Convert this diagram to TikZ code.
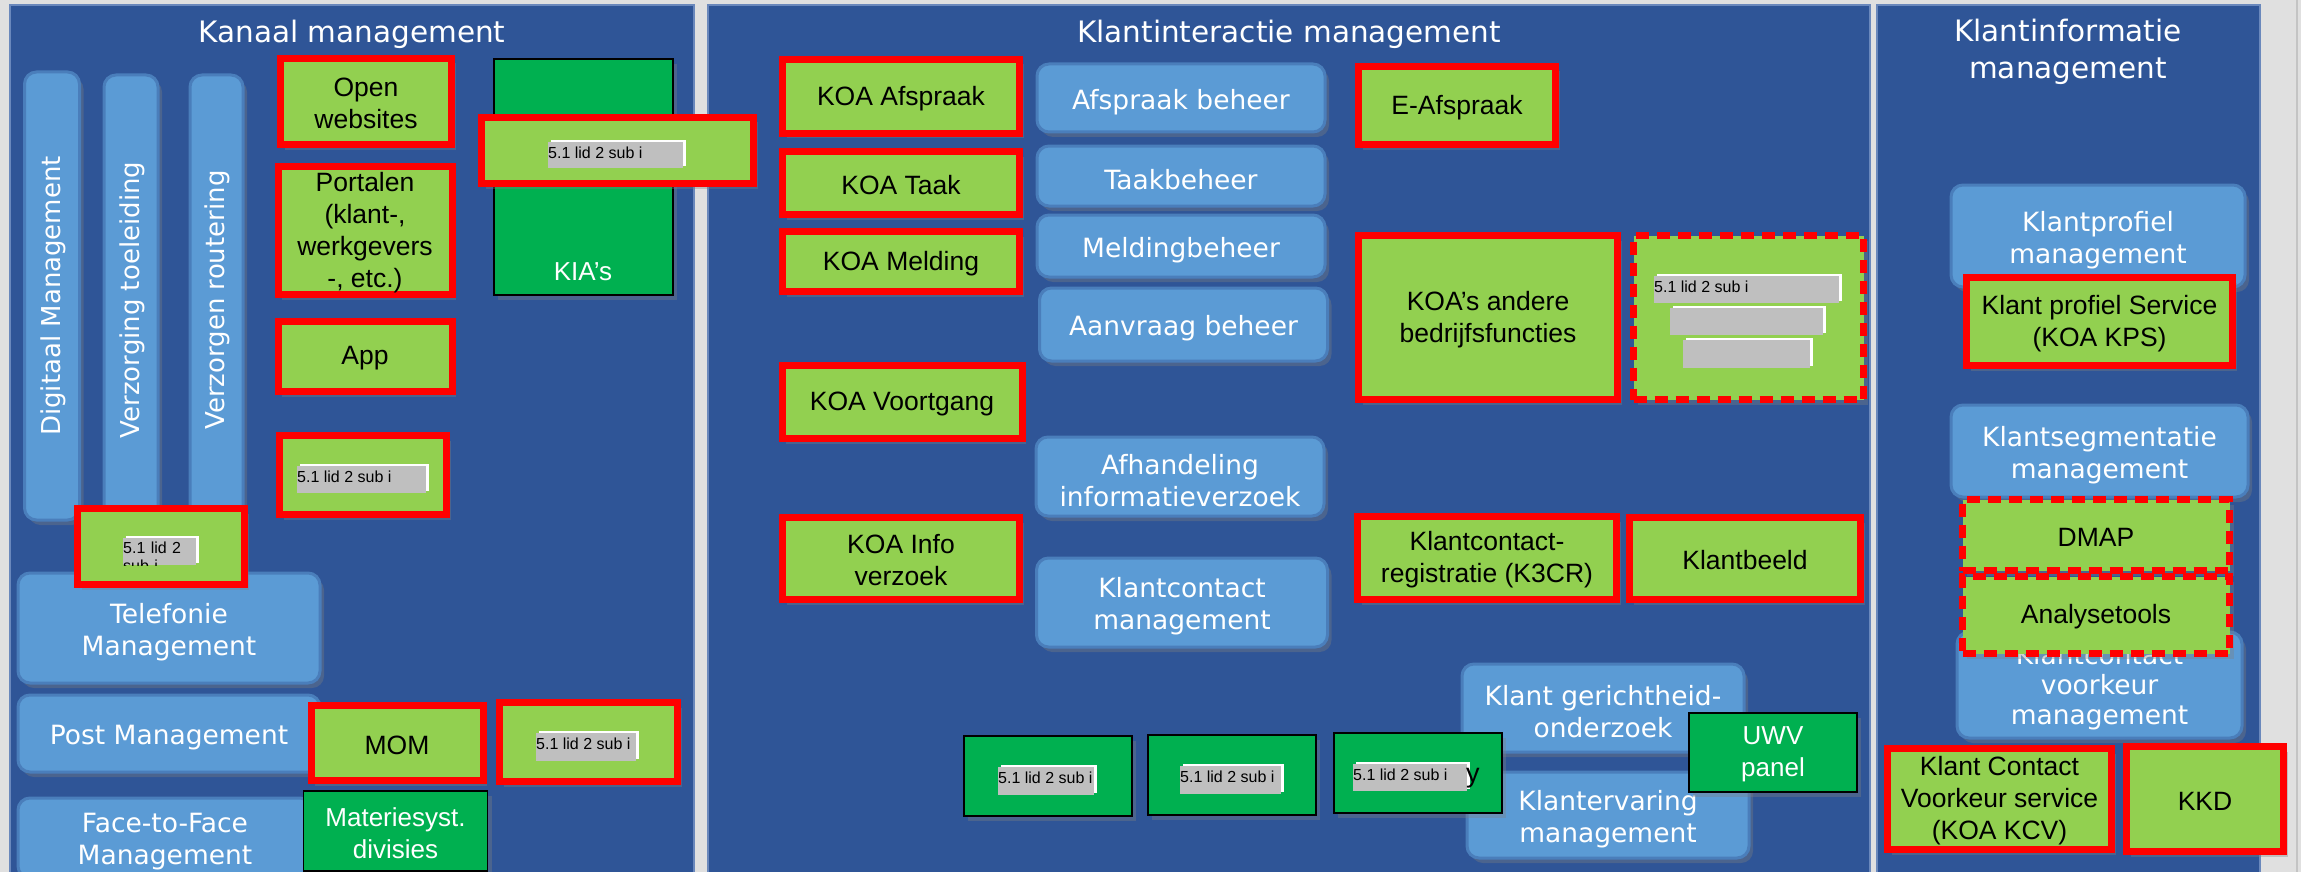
\documentclass[tikz,border=0pt]{standalone}
\usepackage{fontspec}
\setmainfont{Liberation Sans}
\newfontfamily\vfont{DejaVu Sans}
\newfontfamily\afont{Liberation Sans}
\usetikzlibrary{shadows}
\definecolor{bggray}{HTML}{E0E0E0}
\definecolor{edgegray}{HTML}{C4C4C4}
\definecolor{panelblue}{HTML}{2F5597}
\definecolor{paneledge}{HTML}{6A88BC}
\definecolor{lblue}{HTML}{5B9BD5}
\definecolor{lbedge}{HTML}{4A7EBB}
\definecolor{lgreen}{HTML}{92D050}
\definecolor{dgreen}{HTML}{00B050}
\definecolor{labgray}{HTML}{BFBFBF}
\tikzset{
  panel/.style={fill=panelblue, draw=paneledge, line width=2pt},
  ptitle/.style={text=white, font=\vfont\fontsize{29.5}{37}\selectfont, align=center, inner sep=0pt},
  shad/.style={drop shadow={shadow xshift=4pt, shadow yshift=-5pt, opacity=0.35}},
  bbox/.style={rectangle, rounded corners=12pt, fill=lblue, draw=lbedge, line width=3pt, inner sep=0pt, shad},
  btext/.style={text=white, font=\vfont\fontsize{26.5}{32}\selectfont, align=center, inner sep=0pt},
  vtext/.style={rotate=90, text=white, font=\vfont\fontsize{26}{30}\selectfont, inner sep=0pt},
  gbox/.style={rectangle, fill=lgreen, draw=red, line width=7pt, inner sep=0pt, shad},
  gdash/.style={gbox, dash pattern=on 13pt off 8pt},
  gtxt/.style={text=black, font=\afont\fontsize{26.5}{32}\selectfont, align=center, inner sep=0pt},
  dbox/.style={rectangle, fill=dgreen, draw=black, line width=1.5pt, inner sep=0pt, shad},
  dtext/.style={text=white, font=\afont\fontsize{26}{32}\selectfont, align=center, inner sep=0pt},
  gtext/.style={text=black, font=\afont\fontsize{16}{18}\selectfont, inner sep=0pt},
}
% blue rounded box: name, cx, cy, w, h, text
\newcommand\bluebox[6]{%
  \node[bbox, minimum width=#4pt, minimum height=#5pt] (#1) at (#2,#3) {};
  \node[btext] (#1-t) at (#2,#3+4) {#6};}
% green box: [style], name, cx, cy, w, h, text
\newcommand\greenbox[7][gbox]{%
  \node[#1, minimum width=#5pt, minimum height=#6pt] (#2) at (#3,#4) {};
  \node[gtxt] (#2-t) at (#3,#4+2) {#7};}
% dark green box: name, cx, cy, w, h, text
\newcommand\darkbox[6]{%
  \node[dbox, minimum width=#4pt, minimum height=#5pt] (#1) at (#2,#3) {};
  \node[dtext] (#1-t) at (#2,#3+2) {#6};}
\newcommand\graylabel[6]{%
  \fill[white] (#2+3,#3-2) rectangle (#4+3,#5-2);
  \fill[labgray] (#2,#3) rectangle (#4,#5);
  \node[gtext, anchor=base west] (#1) at (#2,#3+16) {#6};}
\newcommand\graybar[4]{%
  \fill[white] (#1+3,#2-2) rectangle (#3+3,#4-2);
  \fill[labgray] (#1,#2) rectangle (#3,#4);}
\begin{document}
\begin{tikzpicture}[x=1pt,y=-1pt]
\useasboundingbox (0,0) rectangle (2301,872);
\clip (0,0) rectangle (2301,872);
\fill[bggray] (0,0) rectangle (2301,872);
\draw[edgegray, line width=2.5pt] (2297,0) -- (2297,872);
% panels
\draw[panel] (10,5) rectangle (694,900);
\draw[panel] (708,5) rectangle (1870,900);
\draw[panel] (1877,5) rectangle (2260,900);
\node[ptitle] (tkanaal) at (352,34) {Kanaal management};
\node[ptitle] (tinter) at (1289,34) {Klantinteractie management};
\node[ptitle] (tinfo) at (2068,52) {Klantinformatie\\management};

% ---------- panel 1: blue ----------
\node[bbox, minimum width=55pt, minimum height=448pt] (bdig) at (52,296) {};
\node[vtext] (tdig) at (53,296) {Digitaal Management};
\node[bbox, minimum width=54pt, minimum height=445pt] (bverz) at (131,297.5) {};
\node[vtext] (tverz) at (132,300) {Verzorging toeleiding};
\node[bbox, minimum width=53pt, minimum height=445pt] (brout) at (216.5,297.5) {};
\node[vtext] (trout) at (217,300) {Verzorgen routering};
\bluebox{btel}{169}{628}{302}{110}{Telefonie\\Management}
\bluebox{bpost}{169}{733.5}{302}{77}{Post Management}
\bluebox{bface}{165}{838}{294}{80}{Face-to-Face\\Management}

% ---------- panel 2: blue ----------
\bluebox{bafs}{1181}{98}{288}{68}{Afspraak beheer}
\bluebox{btaak}{1181}{176}{288}{60}{Taakbeheer}
\bluebox{bmeld}{1181}{246}{288}{62}{Meldingbeheer}
\bluebox{baanv}{1183.5}{324.5}{288}{73}{Aanvraag beheer}
\bluebox{bafh}{1180}{476.5}{288}{79}{Afhandeling\\informatieverzoek}
\bluebox{bkcm}{1182}{602.5}{291}{89}{Klantcontact\\management}
\bluebox{bger}{1603}{708}{282}{88}{Klant gerichtheid-\\onderzoek}
\bluebox{berv}{1608}{815}{282}{86}{Klantervaring\\management}

% ---------- panel 3: blue ----------
\bluebox{bprof}{2098}{236}{294}{102}{Klantprofiel\\management}
\bluebox{bseg}{2099.5}{451}{297}{92}{Klantsegmentatie\\management}
\node[bbox, minimum width=285pt, minimum height=106pt] (bvoor) at (2099.5,685) {};
\node[btext, font=\vfont\fontsize{26.5}{30}\selectfont] (bvoor-t) at (2099.5,687) {Klantcontact\\voorkeur\\management};

% ---------- dark green ----------
\node[dbox, minimum width=179pt, minimum height=236pt] (dkia) at (583.5,177) {};
\node[dtext] (tkia) at (583,272) {KIA’s};
\darkbox{dmat}{395.5}{831}{184}{80}{Materiesyst.\\divisies}
\darkbox{dg1}{1048}{776}{168}{80}{}
\darkbox{dg2}{1232}{775}{168}{80}{}
\darkbox{dg3}{1418}{773}{168}{80}{}
\darkbox{duwv}{1773}{752.5}{168}{79}{UWV\\panel}

% ---------- green / red : panel 1 ----------
\greenbox{gopen}{366}{101.5}{171}{86}{Open\\websites}
\greenbox{gport}{365}{230.5}{174}{128}{Portalen\\(klant-,\\werkgevers\\-, etc.)}
\greenbox{gapp}{365}{356.5}{174}{70}{App}
\greenbox{gfive}{363}{475}{167}{79}{}
\greenbox{gtrunc}{161}{546.5}{167}{76}{}
\greenbox{gmom}{397}{743}{172}{75}{MOM}
\greenbox{gmomr}{588.5}{742}{178}{79}{}
\greenbox{gkia}{617.5}{150.5}{272}{66}{}

% ---------- green / red : panel 2 ----------
\greenbox{gafs}{901}{96.5}{237}{74}{KOA Afspraak}
\greenbox{gtaak}{901}{183}{237}{63}{KOA Taak}
\greenbox{gmeld}{901}{261.5}{237}{60}{KOA Melding}
\greenbox{gvoort}{902}{402}{240}{73}{KOA Voortgang}
\greenbox{ginfo}{901}{558.5}{237}{82}{KOA Info\\verzoek}
\greenbox{geafs}{1457}{105.5}{197}{78}{E-Afspraak}
\greenbox{gandere}{1488}{317.5}{259}{164}{KOA’s andere\\bedrijfsfuncties}
\greenbox[gdash]{gdashed}{1748.5}{317.5}{230}{164}{}
\greenbox{gk3cr}{1487}{558}{259}{83}{Klantcontact-\\registratie (K3CR)}
\greenbox{gbeeld}{1745}{558.5}{231}{82}{Klantbeeld}

% ---------- green / red : panel 3 ----------
\greenbox{gkps}{2099.5}{321.5}{266}{88}{Klant profiel Service\\(KOA KPS)}
\greenbox[gdash]{gdmap}{2096}{535}{267}{71}{DMAP}
\greenbox[gdash]{ganal}{2096}{615}{267}{77}{Analysetools}
\greenbox{gkcv}{1999.5}{799}{224}{101}{Klant Contact\\Voorkeur service\\(KOA KCV)}
\greenbox{gkkd}{2205}{799}{157}{105}{KKD}

% ---------- gray labels ----------
\graylabel{lkia}{548}{142}{683}{168}{5.1 lid 2 sub i}
\graylabel{lfive}{297}{466}{426}{493}{5.1 lid 2 sub i}
\graylabel{lmomr}{536}{733}{636}{761}{5.1 lid 2 sub i}
\graylabel{ldg1}{998}{767}{1094}{795}{5.1 lid 2 sub i}
\graylabel{ldg2}{1180}{766}{1281}{794}{5.1 lid 2 sub i}
\graylabel{ldg3}{1353}{764}{1467}{791}{5.1 lid 2 sub i}
\node[anchor=base west, inner sep=0pt, text=black, font=\afont\fontsize{27}{30}\selectfont] (ly) at (1466,782) {y};
\graylabel{ldash}{1654}{276}{1839}{303}{5.1 lid 2 sub i}
\graybar{1670}{308}{1823}{335}
\graybar{1683}{340}{1810}{368}
\fill[white] (126,536) rectangle (199,563);
\begin{scope}
  \clip (123,538) rectangle (196,565);
  \fill[labgray] (123,538) rectangle (196,565);
  \node[gtext, anchor=north west, text width=73pt, align=left] (ltrunc) at (123,541.5) {5.1 lid 2 sub i};
\end{scope}
\end{tikzpicture}
\end{document}
